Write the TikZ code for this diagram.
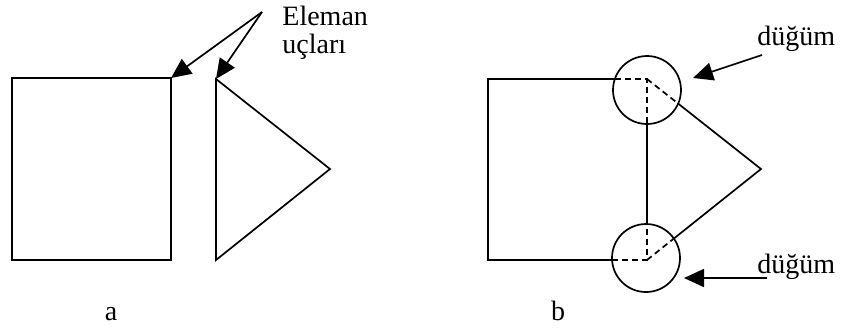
\documentclass[tikz,border=0pt]{standalone}
\usepackage{fontspec}
\setmainfont{Liberation Serif}
\usetikzlibrary{arrows.meta}
\tikzset{
  elem/.style={line width=0.85pt},
  hidden/.style={line width=0.85pt, dash pattern=on 3pt off 2pt},
  pointer/.style={line width=0.85pt, -{Triangle[length=10pt,width=9pt]}},
  lbl/.style={inner sep=0pt, font=\fontsize{14}{16}\selectfont},
  joint/.style={circle, draw, line width=0.85pt, inner sep=0pt, minimum size=34pt}
}

\begin{document}
\begin{tikzpicture}[x=0.5pt,y=-0.5pt]
\useasboundingbox (0,0) rectangle (841,329);
% a: loose elements
\draw[elem] (12,78) rectangle (171,260);
\draw[elem] (216,79) -- (330,169) -- (216,260) -- cycle;
\coordinate (aSqEnd) at (171,78);
\coordinate (aTriEnd) at (216,79);
\coordinate (eleFrom) at (262,12);
\node[lbl, anchor=base west] (eleman) at (282,25) {Eleman};
\node[lbl, anchor=base west] (uclari) at (282,53) {uçları};
\draw[pointer] (eleFrom) -- (aSqEnd);
\draw[pointer] (eleFrom) -- (aTriEnd);
\node[lbl, anchor=base] (capA) at (111,320) {a};

% b: joined elements
\node[joint] (topJoint) at (647,90) {};
\node[joint] (botJoint) at (646,258) {};
\coordinate (topCorner) at (647,79);
\coordinate (botCorner) at (647,260);
\coordinate (apex) at (761,169);
\draw[elem] (615.4,79) -- (488,79) -- (488,260) -- (612.1,260);
\draw[elem] (647,123.5) -- (647,224);
\draw[elem] (677.8,103.3) -- (apex) -- (673.9,238.5);
\draw[hidden] (615.4,79) -- (topCorner) -- (647,123.5);
\draw[hidden] (topCorner) -- (677.8,103.3);
\draw[hidden] (612.1,260) -- (botCorner) -- (647,224);
\draw[hidden] (botCorner) -- (673.9,238.5);

\node[lbl, anchor=base west] (dugumTop) at (757,45) {düğüm};
\node[lbl, anchor=base west] (dugumBot) at (757,273) {düğüm};
\coordinate (topFrom) at (762,55);
\coordinate (topTip) at (693,78);
\coordinate (botFrom) at (767,278);
\coordinate (botTip) at (684,278);
\draw[pointer] (topFrom) -- (topTip);
\draw[pointer] (botFrom) -- (botTip);
\node[lbl, anchor=base] (capB) at (558,320) {b};
\end{tikzpicture}
\end{document}
